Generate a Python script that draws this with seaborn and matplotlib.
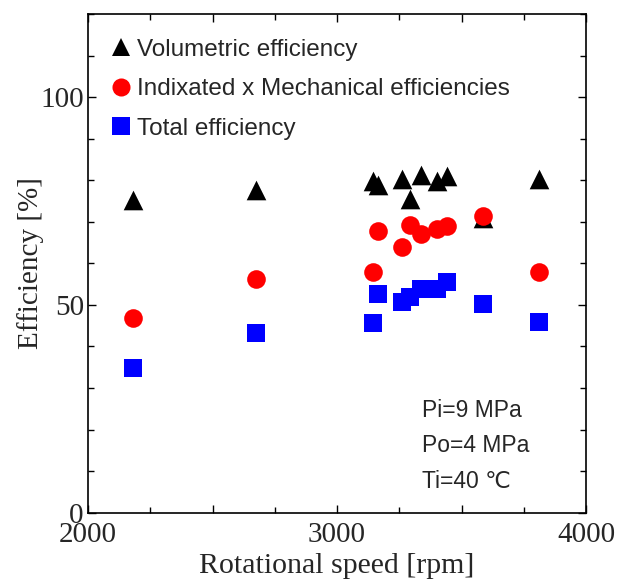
import numpy as np
import pandas as pd
import matplotlib
matplotlib.use("Agg")
import matplotlib.pyplot as plt
from matplotlib.ticker import MultipleLocator, FuncFormatter
from matplotlib.lines import Line2D
import seaborn as sns

# ---- data ----
speed = [2180, 2673, 3143, 3165, 3261, 3293, 3337, 3400, 3442, 3586, 3811]
volumetric = [75.3, 77.7, 79.8, 78.9, 80.3, 75.6, 81.2, 79.8, 81.1, 70.9, 80.2]
ind_mech = [46.8, 56.3, 57.8, 67.7, 64.0, 69.3, 67.0, 68.2, 68.9, 71.5, 57.8]
total = [34.8, 43.3, 45.7, 52.6, 50.8, 51.9, 53.9, 53.9, 55.4, 50.2, 45.9]

series_names = ["Volumetric efficiency",
                "Indixated x Mechanical efficiencies",
                "Total efficiency"]
conditions = ["Pi=9 MPa", "Po=4 MPa", "Ti=40 \u2103"]

df = pd.DataFrame({
    "speed": speed * 3,
    "eff": volumetric + ind_mech + total,
    "series": [series_names[0]] * len(speed) + [series_names[1]] * len(speed)
              + [series_names[2]] * len(speed),
})

sns.set_style("white")
plt.rcParams["font.family"] = ["Liberation Serif", "DejaVu Serif"]

fig = plt.figure(figsize=(6.18, 5.82), dpi=100)
ax = fig.add_axes([88 / 618, 1 - 512.7 / 582, (586 - 88) / 618, (512.7 - 14) / 582])

palette = {series_names[0]: "black", series_names[1]: "#ff0000", series_names[2]: "#0000ff"}
markers = {series_names[0]: "^", series_names[1]: "o", series_names[2]: "s"}
sizes = {series_names[0]: 200, series_names[1]: 180, series_names[2]: 170}

for name in series_names:
    sub = df[df["series"] == name]
    sns.scatterplot(data=sub, x="speed", y="eff", ax=ax, color=palette[name],
                    marker=markers[name], s=sizes[name], linewidth=0,
                    legend=False, zorder=3 if name != series_names[0] else 2)

ax.set_xlim(2000, 4000)
ax.set_ylim(0, 120)
ax.xaxis.set_major_locator(MultipleLocator(500))
ax.xaxis.set_minor_locator(MultipleLocator(250))
ax.xaxis.set_major_formatter(FuncFormatter(lambda v, p: f"{int(v)}" if v % 1000 == 0 else ""))
ax.yaxis.set_major_locator(MultipleLocator(50))
ax.yaxis.set_minor_locator(MultipleLocator(10))

ax.tick_params(which="both", direction="in", top=True, right=True, bottom=True, left=True,
               width=1.0, color="black", labelsize=21)
ax.tick_params(which="major", length=6)
ax.tick_params(which="minor", length=4)
ax.tick_params(axis="x", pad=7)
ax.tick_params(axis="y", pad=3)
for sp in ax.spines.values():
    sp.set_color("black")
    sp.set_linewidth(1.2)

ax.set_xlabel("Rotational speed [rpm]", fontsize=21.5, labelpad=3.5)
ax.set_ylabel("Efficiency [%]", fontsize=21, labelpad=-3)

handles = [Line2D([], [], linestyle="none", marker=markers[n], color=palette[n],
                  markersize=13, markeredgewidth=0) for n in series_names]
leg = ax.legend(handles, series_names, loc="upper left", frameon=False,
                prop={"family": ["Liberation Sans", "DejaVu Sans"], "size": 17.5},
                handletextpad=0.15, handlelength=1.0, labelspacing=0.72,
                borderaxespad=0.0, bbox_to_anchor=(0.022, 0.97))

for i, t in enumerate(conditions):
    ax.text(0.67, 0.205 - i * 0.071, t, transform=ax.transAxes,
            family=["Liberation Sans", "DejaVu Sans"], fontsize=16.5,
            va="center", ha="left")

fig.savefig("out.png", dpi=100)
